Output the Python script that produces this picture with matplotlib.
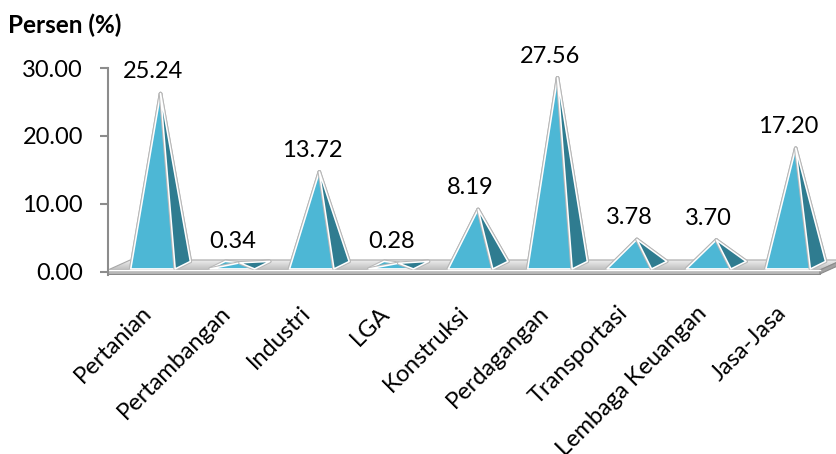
import matplotlib.pyplot as plt
from matplotlib.patches import Polygon
from matplotlib.transforms import ScaledTranslation
import matplotlib.patheffects as pe
import numpy as np

plt.rcParams['font.family'] = ['Lato', 'DejaVu Sans']

# share of each sector (%)
sectors = ["Pertanian", "Pertambangan", "Industri", "LGA", "Konstruksi",
           "Perdagangan", "Transportasi", "Lembaga Keuangan", "Jasa-Jasa"]
shares = [25.24, 0.34, 13.72, 0.28, 8.19, 27.56, 3.78, 3.70, 17.20]
y_ticks = [0, 10, 20, 30]

# pyramid and floor shape (category / value units)
half_w = 0.28
depth_x = 0.19
depth_y = 1.1
base_y = 0.45
floor_left, floor_right = -0.567, 8.40
floor_dx, floor_dy = 0.28, 1.47
floor_top, floor_bottom = 0.29, -0.29

fig = plt.figure(figsize=(8.37, 4.54), dpi=100)
ax = fig.add_axes([0.129, 0.395, 0.871, 0.4552])

# floor slab: top surface with a soft gradient, front and side faces
top = Polygon([(floor_left, floor_top), (floor_right, floor_top),
               (floor_right + floor_dx, floor_top + floor_dy),
               (floor_left + floor_dx, floor_top + floor_dy)],
              closed=True, facecolor='none', edgecolor='#a8a8a8', lw=0.8)
ax.add_patch(top)
grad = np.linspace(0.74, 0.93, 60).reshape(-1, 1)
img = ax.imshow(grad, cmap='gray', vmin=0, vmax=1, aspect='auto', origin='lower',
                extent=[floor_left, floor_right + floor_dx, floor_top, floor_top + floor_dy])
img.set_clip_path(top)

front = Polygon([(floor_left, floor_bottom), (floor_right, floor_bottom),
                 (floor_right, floor_top), (floor_left, floor_top)],
                closed=True, facecolor='#b8b8b8', edgecolor='#8a8a8a', lw=0.8)
ax.add_patch(front)
side = Polygon([(floor_right, floor_bottom), (floor_right + floor_dx, floor_bottom + floor_dy),
                (floor_right + floor_dx, floor_top + floor_dy), (floor_right, floor_top)],
               closed=True, facecolor='#a2a2a2', edgecolor='#8a8a8a', lw=0.8)
ax.add_patch(side)
ax.plot([floor_left, floor_right], [floor_top, floor_top], color='white', lw=1.0)

outline = [pe.Stroke(linewidth=2.6, foreground='#b8b8b8'), pe.Normal()]

# one pyramid per sector, drawn back faces first
for i, v in enumerate(shares):
    x0, x1 = i - half_w, i + half_w
    y0, y1 = base_y, base_y + depth_y
    fl, fr = (x0, y0), (x1, y0)
    bl, br = (x0 + depth_x, y1), (x1 + depth_x, y1)
    apex = (i + depth_x / 2, base_y + depth_y / 2 + v)
    faces = [([bl, br, apex], '#3590a8'),
             ([fl, bl, apex], '#4bb2cd'),
             ([fl, fr, apex], '#4db7d5'),
             ([fr, br, apex], '#2f7c90')]
    for pts, col in faces:
        p = Polygon(pts, closed=True, facecolor=col, edgecolor='white',
                    lw=1.1, joinstyle='round')
        p.set_path_effects(outline)
        ax.add_patch(p)
    ax.annotate("%.2f" % v, (i, apex[1]), xytext=(0, 11), textcoords='offset points',
                ha='center', va='baseline', fontsize=17)

ax.set_xlim(-0.567, 8.615)
ax.set_ylim(-0.4, 30)

ax.set_yticks(y_ticks)
ax.set_yticklabels(["%.2f" % t for t in y_ticks])
ax.set_xticks(range(len(sectors)))
ax.set_xticklabels(sectors, rotation=45, ha='right', rotation_mode='anchor')

ax.tick_params(axis='y', length=6, width=1.5, color='#8c8c8c', labelsize=17, pad=12)
ax.tick_params(axis='x', length=0, labelsize=17, pad=20)

# nudge the slanted sector names a little to the left
shift = ScaledTranslation(-9 / 72, 0, fig.dpi_scale_trans)
for lab in ax.get_xticklabels():
    lab.set_transform(lab.get_transform() + shift)

for s in ['top', 'right', 'bottom']:
    ax.spines[s].set_visible(False)
ax.spines['left'].set_color('#8c8c8c')
ax.spines['left'].set_linewidth(1.5)

fig.text(0.0096, 0.945, "Persen (%)", fontsize=17.5, fontweight='bold', va='center')

fig.savefig('out.png', dpi=100)
